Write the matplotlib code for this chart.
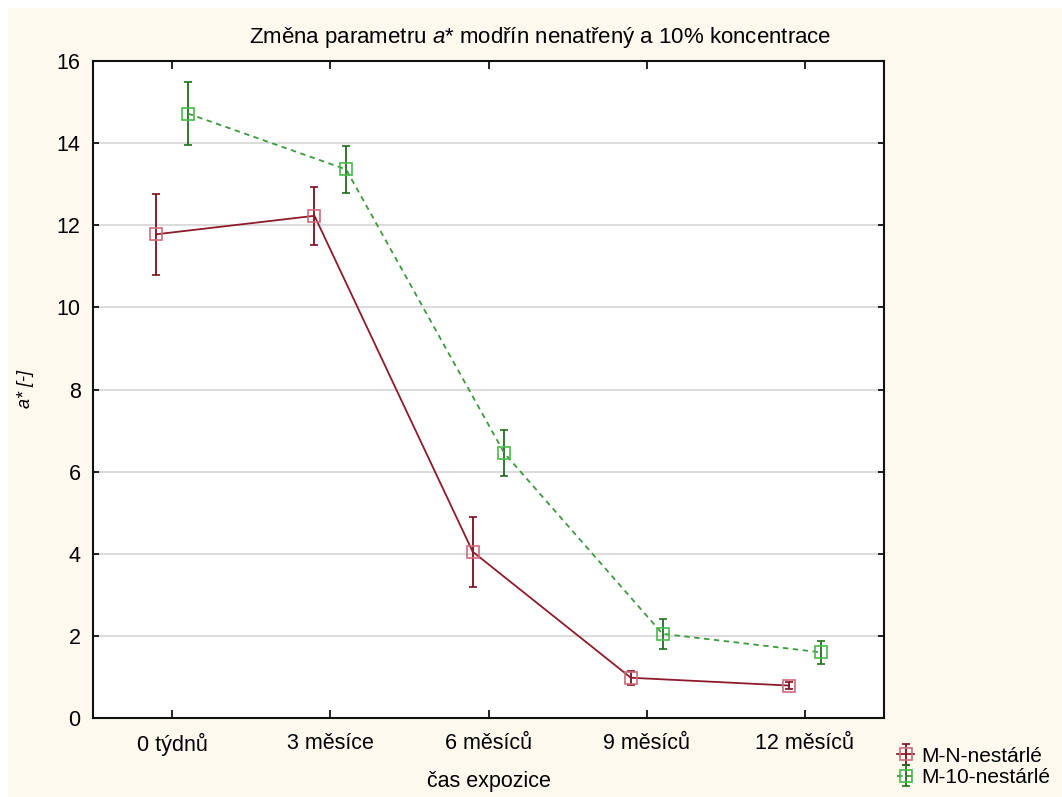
import matplotlib.pyplot as plt
import numpy as np
from matplotlib.patches import Rectangle

plt.rcParams['font.family'] = ['Liberation Sans', 'DejaVu Sans']
plt.rcParams['mathtext.fontset'] = 'custom'
plt.rcParams['mathtext.it'] = 'Liberation Sans:italic'
plt.rcParams['mathtext.rm'] = 'Liberation Sans'

categories = ['0 týdnů', '3 měsíce', '6 měsíců', '9 měsíců', '12 měsíců']
series_names = ['M-N-nestárlé', 'M-10-nestárlé']
mn_mean = [11.78, 12.23, 4.05, 0.98, 0.79]
mn_err = [0.98, 0.70, 0.85, 0.17, 0.09]
m10_mean = [14.72, 13.36, 6.45, 2.05, 1.60]
m10_err = [0.77, 0.58, 0.56, 0.37, 0.28]
y_ticks = [0, 2, 4, 6, 8, 10, 12, 14, 16]

fig = plt.figure(figsize=(10.62, 7.97), dpi=100, facecolor='white')
# cream panel behind everything, leaving a thin white strip top and left
fig.patches.append(Rectangle((8 / 1062, 0), 1, 1 - 8 / 797, transform=fig.transFigure,
                             facecolor='#FDF9EE', edgecolor='none', zorder=-10))

ax = fig.add_axes([93 / 1062, 1 - 718 / 797, (884 - 93) / 1062, (718 - 61) / 797])
ax.set_facecolor('white')

x = np.arange(len(categories))
shift = 0.1

ax.errorbar(x - shift, mn_mean, yerr=mn_err, color='#8E1B2B', lw=1.3,
            marker='s', ms=8, mfc='none', mec='#D06A7A', mew=1.2,
            ecolor='#7A0E1E', elinewidth=1.3, capsize=2.8, capthick=1.3,
            label=series_names[0], zorder=3)
ax.errorbar(x + shift, m10_mean, yerr=m10_err, color='#3C9A3C', lw=1.3, ls=(0, (3, 2.5)),
            marker='s', ms=8, mfc='none', mec='#45BB45', mew=1.2,
            ecolor='#1F701F', elinewidth=1.3, capsize=2.8, capthick=1.3,
            label=series_names[1], zorder=3)

ax.set_xlim(-0.5, 4.5)
ax.set_ylim(0, 16)
ax.set_xticks(x)
ax.set_xticklabels(categories)
ax.set_yticks(y_ticks)
ax.grid(axis='y', color='#D4D4D4', lw=1.2, zorder=0)
ax.set_axisbelow(True)

ax.tick_params(axis='x', direction='in', top=True, length=6, width=1.2, pad=11, labelsize=15.5)
ax.tick_params(axis='y', direction='in', right=True, length=4, width=1.2, pad=9, labelsize=15.5)
for sp in ax.spines.values():
    sp.set_linewidth(1.5)
    sp.set_color('#111111')

# title sits centred on the whole figure, not on the axes
fig.text(540 / 1062, 1 - 37 / 797,
         'Změna parametru $\\mathit{a}$* modřín nenatřený a 10% koncentrace',
         fontsize=16, ha='center', va='center')
ax.set_xlabel('čas expozice', fontsize=15.5)
ax.xaxis.set_label_coords(0.5, -0.08)
ax.set_ylabel('a* [-]', fontsize=13, fontstyle='italic')
ax.yaxis.set_label_coords(-0.074, 0.5)

handles, labels = ax.get_legend_handles_labels()
fig.legend(handles, labels, loc='lower left', bbox_to_anchor=(889 / 1062, 0.002),
           frameon=False, fontsize=15, handlelength=0.8, handletextpad=0.35,
           labelspacing=0.12, borderaxespad=0)

fig.savefig('out.png', dpi=100, facecolor=fig.get_facecolor())
